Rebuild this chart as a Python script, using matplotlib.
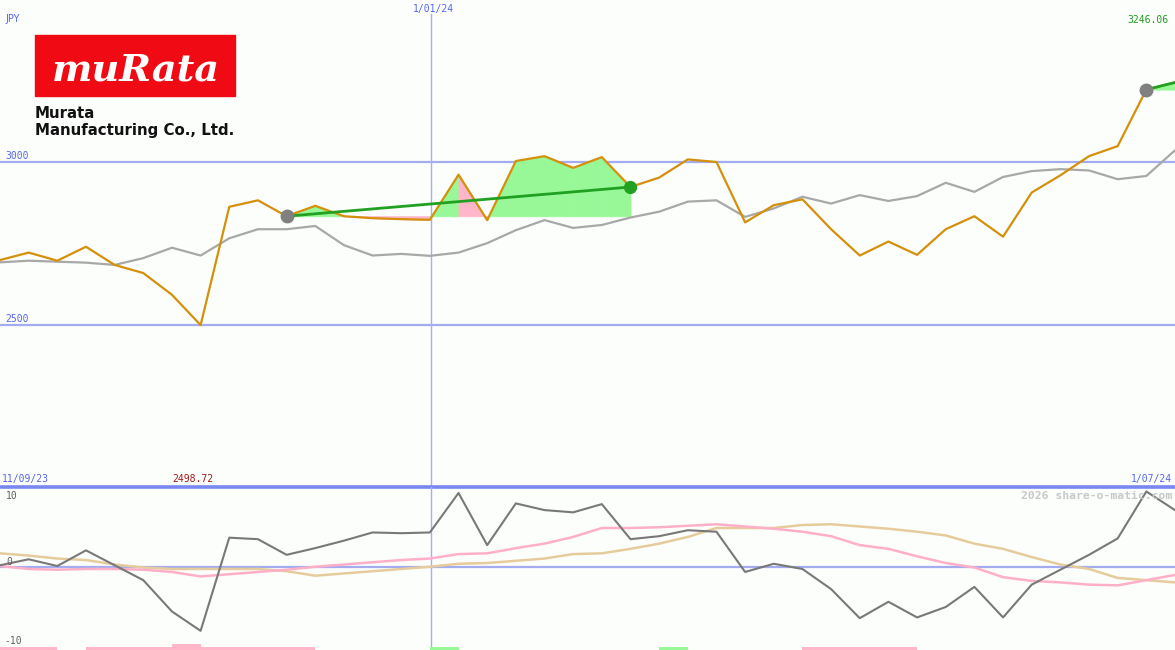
import numpy as np
import matplotlib.pyplot as plt
from matplotlib.patches import Rectangle

# ---- data (weekly points) ----
price = [2699, 2722, 2697, 2740, 2684, 2659, 2592, 2498.72, 2863, 2883,
         2834, 2866, 2834, 2828, 2825, 2823, 2962, 2822, 3004, 3019,
         2983, 3016, 2924, 2953, 3009, 3001, 2815, 2868, 2886, 2794,
         2713, 2756, 2715, 2794, 2834, 2771, 2907, 2960, 3019, 3050,
         3224, 3246.06]
avg_line = [2692, 2697, 2694, 2691, 2684, 2705, 2737, 2713, 2766, 2794,
            2794, 2804, 2745, 2713, 2718, 2712, 2722, 2751, 2791, 2822,
            2798, 2807, 2830, 2848, 2879, 2883, 2832, 2858, 2894, 2873,
            2899, 2881, 2896, 2937, 2909, 2955, 2973, 2979, 2975, 2948,
            2958, 3037]
osc = [0.3, 1.1, 0.2, 2.3, 0.3, -1.7, -5.9, -8.5, 4.0, 3.8,
       1.7, 2.6, 3.6, 4.7, 4.6, 4.7, 10.0, 3.0, 8.6, 7.7,
       7.4, 8.5, 3.8, 4.2, 5.0, 4.8, -0.6, 0.5, -0.2, -2.9,
       -6.8, -4.6, -6.7, -5.3, -2.6, -6.7, -2.3, -0.3, 1.7, 3.9,
       10.2, 7.7]
osc_fast = [0.2, -0.2, -0.3, -0.2, -0.2, -0.3, -0.6, -1.2, -0.9, -0.6,
            -0.3, 0.1, 0.4, 0.7, 1.0, 1.2, 1.8, 1.9, 2.6, 3.2,
            4.1, 5.3, 5.3, 5.4, 5.6, 5.8, 5.5, 5.2, 4.8, 4.2,
            3.0, 2.5, 1.5, 0.6, 0.0, -1.3, -1.8, -2.0, -2.3, -2.4,
            -1.7, -1.0]
osc_slow = [1.9, 1.6, 1.2, 1.0, 0.4, 0.0, -0.2, -0.2, -0.2, -0.2,
            -0.5, -1.1, -0.8, -0.5, -0.2, 0.1, 0.5, 0.6, 0.9, 1.2,
            1.8, 1.9, 2.5, 3.2, 4.1, 5.3, 5.3, 5.3, 5.7, 5.8,
            5.5, 5.2, 4.8, 4.3, 3.2, 2.5, 1.4, 0.4, -0.2, -1.4,
            -1.7, -2.0]
# signal strip: 1 = buy (green), -1 = sell (pink), -2 = strong sell
signal = [-1, -1, 0, -1, -1, -1, -2, -1, -1, -1,
          -1, 0, 0, 0, 0, 1, 0, 0, 0, 0,
          0, 0, 0, 1, 0, 0, 0, 0, -1, -1,
          -1, -1, 0, 0, 0, 0, 0, 0, 0, 0,
          0, 0]
trend_start = [10, 40]
trend_end = [22, 41]
x_newyear = 15.04

x = np.arange(len(price))

BG = '#fcfefc'
BLUE_TXT = '#5566ee'
GRID = '#a4acf0'

W, H = 1175, 650
fig = plt.figure(figsize=(W / 100, H / 100), dpi=100, facecolor=BG)
split = 1 - 487 / H
ax1 = fig.add_axes([0, split, 1, 1 - split])
ax2 = fig.add_axes([0, 0, 1, split])
for ax in (ax1, ax2):
    ax.set_facecolor(BG)
    ax.set_xlim(0, 41)
    ax.axis('off')

ax1.set_ylim(2000, 3500)
ax2.set_ylim(-11.07, 10.8)

# ---- top panel ----
ax1.axhline(3000, color=GRID, lw=1.6, zorder=1)
ax1.axhline(2500, color=GRID, lw=1.6, zorder=1)
ax1.axhline(2000, color='#7888f0', lw=2.6, zorder=5, clip_on=False)
ax1.axvline(x_newyear, ymax=1 - 14 / 487, color='#a8b0e8', lw=1, zorder=1)
ax2.axvline(x_newyear, color='#a8b0e8', lw=1, zorder=1)

# shaded area between price and the level at the start of each trend segment
for s, e in zip(trend_start, trend_end):
    base = price[s]
    for i in range(s, e):
        col = '#98f898' if price[i + 1] >= base else '#ffb6c8'
        ax1.fill_between(x[i:i + 2], price[i:i + 2], base, facecolor=col,
                         edgecolor=col, lw=0.6, zorder=2)

ax1.plot(x, avg_line, color='#a8a8a8', lw=1.6, zorder=3)
ax1.plot(x, price, color='#d4900a', lw=1.6, zorder=4)
for s, e in zip(trend_start, trend_end):
    ax1.plot([s, e], [price[s], price[e]], color='#22a022', lw=2, zorder=5)
    ax1.plot(s, price[s], 'o', color='#808080', ms=9, zorder=6)
    if e < len(price) - 1:
        ax1.plot(e, price[e], 'o', color='#22a022', ms=8.5, zorder=6)

# ---- bottom panel ----
ax2.axhline(0, color=GRID, lw=1.6, zorder=1)
ax2.plot(x, osc_slow, color='#e6cc9c', lw=1.8, zorder=3)
ax2.plot(x, osc_fast, color='#ffb0c8', lw=1.8, zorder=3)
ax2.plot(x, osc, color='#787878', lw=1.5, zorder=4)

ymin = ax2.get_ylim()[0]
for i, sgn in enumerate(signal):
    if sgn == 0:
        continue
    col = '#98f898' if sgn > 0 else '#ffb6c8'
    hgt = 0.8 if sgn == -2 else 0.42
    ax2.bar(i, hgt, width=1, align='edge', bottom=ymin, color=col, lw=0, zorder=2)

# ---- text ----
mono = 'DejaVu Sans Mono'


def px_text(px, py, s, **kw):
    fig.text(px / W, 1 - py / H, s, va='center', **kw)


px_text(5, 19, 'JPY', color=BLUE_TXT, fontsize=7, family='DejaVu Sans')
px_text(433, 9, '1/01/24', color=BLUE_TXT, fontsize=7, family=mono, ha='center')
px_text(1168, 20, '3246.06', color='#229922', fontsize=7, family=mono, ha='right')
px_text(5, 156, '3000', color=BLUE_TXT, fontsize=7, family=mono)
px_text(5, 319, '2500', color=BLUE_TXT, fontsize=7, family=mono)
px_text(2, 479, '11/09/23', color=BLUE_TXT, fontsize=7, family=mono)
px_text(172, 479, '2498.72', color='#a01818', fontsize=7, family=mono)
px_text(1172, 479, '1/07/24', color=BLUE_TXT, fontsize=7, family=mono, ha='right')
px_text(6, 496, '10', color='#606060', fontsize=7, family=mono)
px_text(6, 562, '0', color='#606060', fontsize=7, family=mono)
px_text(4, 641, '-10', color='#606060', fontsize=7, family=mono)
px_text(1172, 496, '2026 share-o-matic.com', color='#c8c8c8', fontsize=8.2,
        family=mono, weight='bold', ha='right', zorder=0)

# logo
fig.patches.append(Rectangle((35 / W, 1 - 96 / H), 200 / W, 61 / H,
                             transform=fig.transFigure, color='#f00a14', zorder=0))
px_text(136, 70, 'muRata', color='white', fontsize=27.5, family='DejaVu Serif',
        weight='bold', style='italic', ha='center')
px_text(35, 113, 'Murata', color='#111111', fontsize=10.8, family='DejaVu Sans', weight='bold')
px_text(35, 131, 'Manufacturing Co., Ltd.', color='#111111', fontsize=10.8,
        family='DejaVu Sans', weight='bold')

fig.savefig('out.png', dpi=100, facecolor=BG)
